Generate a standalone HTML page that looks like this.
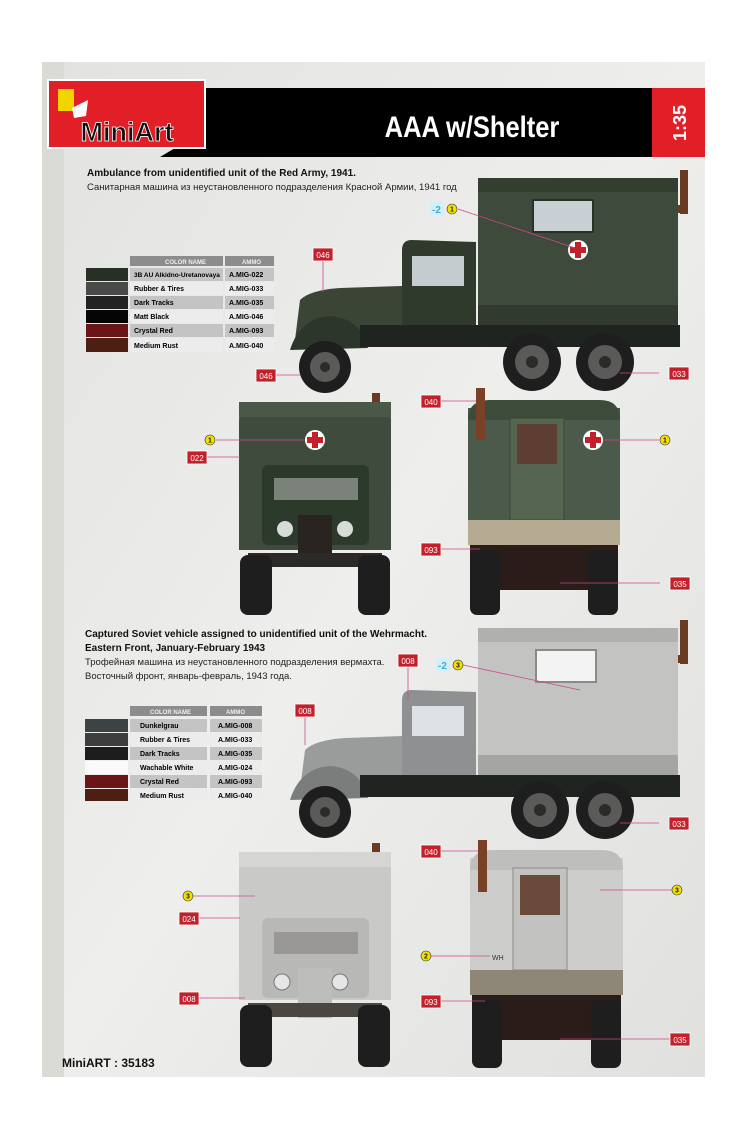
<!DOCTYPE html>
<html><head><meta charset="utf-8"><style>
html,body{margin:0;padding:0;width:746px;height:1139px;overflow:hidden;background:#fff}
svg{display:block}
text{font-family:"Liberation Sans","Noto Sans CJK SC",sans-serif}
</style></head><body>
<svg width="746" height="1139" viewBox="0 0 746 1139" xmlns="http://www.w3.org/2000/svg">
<defs>
<linearGradient id="pg" x1="0" y1="0" x2="1" y2="1">
<stop offset="0" stop-color="#e2e2e0"/><stop offset="0.5" stop-color="#eeeeec"/><stop offset="1" stop-color="#e0e0de"/></linearGradient>
<g id="lbl"><rect x="0" y="0" width="20" height="13" fill="#c3202b" stroke="#fff" stroke-width="0.8"/></g>
<g id="wheel"><circle r="29" fill="#1e1e1e"/><circle r="17" fill="#5a5a58"/><circle r="6" fill="#2b2b2b"/></g>
<g id="fwheel"><circle r="26" fill="#1e1e1e"/><circle r="15" fill="#5a5a58"/><circle r="5" fill="#2b2b2b"/></g>
</defs>
<rect x="42" y="62" width="663" height="1015" fill="url(#pg)"/>
<rect x="42" y="62" width="22" height="1015" fill="#dadad7"/>
<!-- header -->
<polygon points="160,88 655,88 655,157 160,157 175,148 175,95" fill="#000"/>
<rect x="652" y="88" width="53" height="69" fill="#e21f26"/>
<text transform="translate(686,123) rotate(-90)" text-anchor="middle" font-size="18" font-weight="bold" fill="#fff">1:35</text>
<text x="472" y="137" text-anchor="middle" font-size="30" font-weight="bold" fill="#fff" transform="translate(472,0) scale(0.85,1) translate(-472,0)">AAA w/Shelter</text>
<rect x="48" y="80" width="157" height="68" fill="#e21f26" stroke="#fff" stroke-width="2"/>
<rect x="58" y="89" width="16" height="22" fill="#f2d500"/>
<path d="M72 108 L88 100 L86 116 L74 118 Z" fill="#fff"/>
<text x="127" y="141" text-anchor="middle" font-size="27" font-weight="bold" fill="#111" stroke="#fff" stroke-width="0.8">MiniArt</text>
<!-- section 1 text -->
<text x="87" y="176" font-size="10" font-weight="bold" fill="#111">Ambulance from unidentified unit of the Red Army, 1941.</text>
<text x="87" y="190" font-size="9.5" fill="#222">Санитарная машина из неустановленного подразделения Красной Армии, 1941 год</text>
<!-- table 1 -->
<g font-size="7" font-weight="bold">
<rect x="130" y="256" width="93" height="10" fill="#8c8c8c"/><rect x="225" y="256" width="49" height="10" fill="#8c8c8c"/>
<text x="165" y="264" fill="#eee" font-size="6">COLOR NAME</text><text x="242" y="264" fill="#eee" font-size="6">AMMO</text>
<rect x="86" y="268" width="42" height="13" fill="#283026"/><rect x="130" y="268" width="93" height="13" fill="#c4c4c4"/><rect x="225" y="268" width="49" height="13" fill="#c4c4c4"/>
<text x="134" y="277" font-size="6.5">3B AU Alkidno-Uretanovaya</text><text x="229" y="277">A.MIG-022</text>
<rect x="86" y="282" width="42" height="13" fill="#4a4a4a"/><rect x="130" y="282" width="93" height="13" fill="#ececec"/><rect x="225" y="282" width="49" height="13" fill="#ececec"/>
<text x="134" y="291">Rubber &amp; Tires</text><text x="229" y="291">A.MIG-033</text>
<rect x="86" y="296" width="42" height="13" fill="#222"/><rect x="130" y="296" width="93" height="13" fill="#c4c4c4"/><rect x="225" y="296" width="49" height="13" fill="#c4c4c4"/>
<text x="134" y="305">Dark Tracks</text><text x="229" y="305">A.MIG-035</text>
<rect x="86" y="310" width="42" height="13" fill="#050505"/><rect x="130" y="310" width="93" height="13" fill="#ececec"/><rect x="225" y="310" width="49" height="13" fill="#ececec"/>
<text x="134" y="319">Matt Black</text><text x="229" y="319">A.MIG-046</text>
<rect x="86" y="324" width="42" height="13" fill="#6a1518"/><rect x="130" y="324" width="93" height="13" fill="#c4c4c4"/><rect x="225" y="324" width="49" height="13" fill="#c4c4c4"/>
<text x="134" y="333">Crystal Red</text><text x="229" y="333">A.MIG-093</text>
<rect x="86" y="338" width="42" height="14" fill="#4d1e12"/><rect x="130" y="338" width="93" height="14" fill="#ececec"/><rect x="225" y="338" width="49" height="14" fill="#ececec"/>
<text x="134" y="348">Medium Rust</text><text x="229" y="348">A.MIG-040</text>
</g>
<!-- table 2 -->
<g font-size="7" font-weight="bold">
<rect x="130" y="706" width="77" height="10" fill="#8c8c8c"/><rect x="210" y="706" width="52" height="10" fill="#8c8c8c"/>
<text x="150" y="714" fill="#eee" font-size="6">COLOR NAME</text><text x="226" y="714" fill="#eee" font-size="6">AMMO</text>
<rect x="85" y="719" width="43" height="13" fill="#3d4345"/><rect x="130" y="719" width="77" height="13" fill="#c4c4c4"/><rect x="210" y="719" width="52" height="13" fill="#c4c4c4"/>
<text x="140" y="728">Dunkelgrau</text><text x="218" y="728">A.MIG-008</text>
<rect x="85" y="733" width="43" height="13" fill="#3e3e3e"/><rect x="130" y="733" width="77" height="13" fill="#ececec"/><rect x="210" y="733" width="52" height="13" fill="#ececec"/>
<text x="140" y="742">Rubber &amp; Tires</text><text x="218" y="742">A.MIG-033</text>
<rect x="85" y="747" width="43" height="13" fill="#1d1d1d"/><rect x="130" y="747" width="77" height="13" fill="#c4c4c4"/><rect x="210" y="747" width="52" height="13" fill="#c4c4c4"/>
<text x="140" y="756">Dark Tracks</text><text x="218" y="756">A.MIG-035</text>
<rect x="85" y="761" width="43" height="13" fill="#fafafa"/><rect x="130" y="761" width="77" height="13" fill="#ececec"/><rect x="210" y="761" width="52" height="13" fill="#ececec"/>
<text x="140" y="770">Wachable White</text><text x="218" y="770">A.MIG-024</text>
<rect x="85" y="775" width="43" height="13" fill="#6a1518"/><rect x="130" y="775" width="77" height="13" fill="#c4c4c4"/><rect x="210" y="775" width="52" height="13" fill="#c4c4c4"/>
<text x="140" y="784">Crystal Red</text><text x="218" y="784">A.MIG-093</text>
<rect x="85" y="789" width="43" height="12" fill="#4d1e12"/><rect x="130" y="789" width="77" height="12" fill="#ececec"/><rect x="210" y="789" width="52" height="12" fill="#ececec"/>
<text x="140" y="798">Medium Rust</text><text x="218" y="798">A.MIG-040</text>
</g>
<!-- section 2 text -->
<text x="85" y="637" font-size="10" font-weight="bold" fill="#111">Captured Soviet vehicle assigned to unidentified unit of the Wehrmacht.</text>
<text x="85" y="651" font-size="10" font-weight="bold" fill="#111">Eastern Front, January-February 1943</text>
<text x="85" y="665" font-size="9.5" fill="#222">Трофейная машина из неустановленного подразделения вермахта.</text>
<text x="85" y="679" font-size="9.5" fill="#222">Восточный фронт, январь-февраль, 1943 года.</text>

<!-- TRUCK 1 side -->
<g>
<rect x="680" y="170" width="8" height="44" fill="#6b3a22"/><rect x="676" y="205" width="12" height="8" fill="#6b3a22"/>
<rect x="478" y="178" width="200" height="146" fill="#3e4a3b"/>
<rect x="478" y="178" width="200" height="14" fill="#333e31"/>
<rect x="533" y="200" width="60" height="32" fill="#c8d0d4" stroke="#2a3228" stroke-width="2"/>
<circle cx="578" cy="250" r="10" fill="#fff"/><path d="M575 242h6v5h5v6h-5v5h-6v-5h-5v-6h5z" fill="#c3202b"/>
<rect x="478" y="305" width="200" height="20" fill="#323a30"/>
<path d="M402 325 L402 250 Q402 240 412 240 L476 242 L476 325 Z" fill="#2f3a2d"/>
<rect x="412" y="256" width="52" height="30" fill="#c5ccd0"/>
<path d="M295 340 L300 300 Q310 290 340 288 L402 286 L402 335 Z" fill="#3a4536"/>
<path d="M290 350 Q300 318 330 316 Q360 318 368 348 Z" fill="#2d362b"/>
<rect x="360" y="325" width="320" height="22" fill="#1f2420"/>
<use href="#fwheel" x="325" y="367"/>
<use href="#wheel" x="532" y="362"/><use href="#wheel" x="605" y="362"/>
</g>
<!-- TRUCK 1 front -->
<g>
<rect x="372" y="393" width="8" height="20" fill="#6b3a22"/>
<path d="M239 420 Q239 402 260 402 L370 402 Q391 402 391 420 L391 550 L239 550 Z" fill="#3f4b3d"/>
<rect x="239" y="402" width="152" height="15" fill="#4a5847"/>
<circle cx="315" cy="440" r="10" fill="#fff"/><path d="M312 432h6v5h5v6h-5v5h-6v-5h-5v-6h5z" fill="#c3202b"/>
<rect x="262" y="465" width="107" height="80" rx="6" fill="#2c3a2c"/>
<rect x="274" y="478" width="84" height="22" fill="#7a8279"/>
<rect x="298" y="515" width="34" height="50" fill="#2a2420"/>
<circle cx="285" cy="529" r="8" fill="#d8dcd8"/><circle cx="345" cy="529" r="8" fill="#d8dcd8"/>
<rect x="248" y="553" width="134" height="14" fill="#2b2a26"/>
<rect x="240" y="555" width="32" height="60" rx="8" fill="#1e1e1e"/><rect x="358" y="555" width="32" height="60" rx="8" fill="#1e1e1e"/>
</g>
<!-- TRUCK 1 rear -->
<g>
<rect x="468" y="408" width="152" height="112" fill="#4b5a4a"/>
<path d="M468 420 Q468 400 490 400 L600 400 Q620 400 620 420 Z" fill="#3d4b3b"/>
<rect x="476" y="388" width="9" height="52" fill="#7a4128"/>
<rect x="510" y="418" width="54" height="102" fill="#55654f" stroke="#3a4738"/>
<rect x="517" y="424" width="40" height="40" fill="#5e3e32"/>
<circle cx="593" cy="440" r="10" fill="#fff"/><path d="M590 432h6v5h5v6h-5v5h-6v-5h-5v-6h5z" fill="#c3202b"/>
<rect x="468" y="520" width="152" height="25" fill="#b4ab92"/>
<rect x="470" y="545" width="148" height="45" fill="#2a1c18"/>
<rect x="470" y="550" width="30" height="65" rx="7" fill="#1e1e1e"/><rect x="588" y="550" width="30" height="65" rx="7" fill="#1e1e1e"/>
</g>

<!-- TRUCK 2 side -->
<g>
<rect x="680" y="620" width="8" height="44" fill="#6b3a22"/><rect x="676" y="655" width="12" height="8" fill="#6b3a22"/>
<rect x="478" y="628" width="200" height="146" fill="#c3c3c1"/>
<rect x="478" y="628" width="200" height="14" fill="#b0b0ae"/>
<rect x="536" y="650" width="60" height="32" fill="#f3f3f3" stroke="#8a8a88" stroke-width="2"/>
<rect x="478" y="755" width="200" height="20" fill="#a5a5a3"/>
<path d="M402 775 L402 700 Q402 690 412 690 L476 692 L476 775 Z" fill="#8e9092"/>
<rect x="412" y="706" width="52" height="30" fill="#dfe2e4"/>
<path d="M300 790 L305 750 Q315 740 345 738 L402 736 L402 785 Z" fill="#9a9c9c"/>
<path d="M290 800 Q300 768 330 766 Q360 768 368 798 Z" fill="#7b7d7d"/>
<rect x="360" y="775" width="320" height="22" fill="#1f2420"/>
<use href="#fwheel" x="325" y="812"/>
<use href="#wheel" x="540" y="810"/><use href="#wheel" x="605" y="810"/>
</g>
<!-- TRUCK 2 front -->
<g>
<rect x="372" y="843" width="8" height="20" fill="#6b3a22"/>
<path d="M239 870 Q239 852 260 852 L370 852 Q391 852 391 870 L391 1000 L239 1000 Z" fill="#c9c9c7"/>
<rect x="239" y="852" width="152" height="15" fill="#d5d5d3"/>
<rect x="262" y="918" width="107" height="80" rx="6" fill="#b8b8b6"/>
<rect x="274" y="932" width="84" height="22" fill="#9a9895"/>
<rect x="298" y="968" width="34" height="50" fill="#bdbdbb"/>
<circle cx="282" cy="982" r="8" fill="#e6e6e6" stroke="#777"/><circle cx="340" cy="982" r="8" fill="#e6e6e6" stroke="#777"/>
<rect x="248" y="1003" width="134" height="14" fill="#4a4642"/>
<rect x="240" y="1005" width="32" height="62" rx="8" fill="#1e1e1e"/><rect x="358" y="1005" width="32" height="62" rx="8" fill="#1e1e1e"/>
</g>
<!-- TRUCK 2 rear -->
<g>
<rect x="470" y="858" width="153" height="112" fill="#cdcdcb"/>
<path d="M470 870 Q470 850 492 850 L602 850 Q623 850 623 870 Z" fill="#bebebc"/>
<rect x="478" y="840" width="9" height="52" fill="#7a4128"/>
<rect x="513" y="868" width="54" height="102" fill="#c2c2c0" stroke="#8a8a88"/>
<rect x="520" y="875" width="40" height="40" fill="#6a4a3a"/>
<text x="492" y="960" font-size="7" fill="#333">WH</text>
<rect x="470" y="970" width="153" height="25" fill="#8e8676"/>
<rect x="472" y="995" width="149" height="45" fill="#2a1c18"/>
<rect x="472" y="1000" width="30" height="68" rx="7" fill="#1e1e1e"/><rect x="591" y="1000" width="30" height="68" rx="7" fill="#1e1e1e"/>
</g>

<!-- leader lines -->
<g stroke="#c94a8a" stroke-width="0.8" fill="none">
<line x1="458" y1="209" x2="575" y2="248"/>
<line x1="323" y1="261" x2="323" y2="292"/>
<line x1="276" y1="375" x2="300" y2="375"/>
<line x1="620" y1="373" x2="659" y2="373"/>
<line x1="441" y1="401" x2="476" y2="401"/>
<line x1="207" y1="457" x2="240" y2="457"/>
<line x1="216" y1="440" x2="305" y2="440"/>
<line x1="604" y1="440" x2="659" y2="440"/>
<line x1="441" y1="549" x2="480" y2="549"/>
<line x1="560" y1="583" x2="660" y2="583"/>
<line x1="408" y1="667" x2="408" y2="700"/>
<line x1="305" y1="717" x2="305" y2="745"/>
<line x1="463" y1="665" x2="580" y2="690"/>
<line x1="620" y1="823" x2="659" y2="823"/>
<line x1="441" y1="851" x2="478" y2="851"/>
<line x1="193" y1="896" x2="255" y2="896"/>
<line x1="199" y1="918" x2="240" y2="918"/>
<line x1="199" y1="998" x2="245" y2="998"/>
<line x1="431" y1="956" x2="490" y2="956"/>
<line x1="600" y1="890" x2="672" y2="890"/>
<line x1="441" y1="1001" x2="485" y2="1001"/>
<line x1="560" y1="1039" x2="670" y2="1039"/>
</g>
<!-- red labels -->
<g font-size="8" fill="#fff" text-anchor="middle">
<g transform="translate(313,248)"><use href="#lbl"/><text x="10" y="10">046</text></g>
<g transform="translate(256,369)"><use href="#lbl"/><text x="10" y="10">046</text></g>
<g transform="translate(669,367)"><use href="#lbl"/><text x="10" y="10">033</text></g>
<g transform="translate(421,395)"><use href="#lbl"/><text x="10" y="10">040</text></g>
<g transform="translate(187,451)"><use href="#lbl"/><text x="10" y="10">022</text></g>
<g transform="translate(421,543)"><use href="#lbl"/><text x="10" y="10">093</text></g>
<g transform="translate(670,577)"><use href="#lbl"/><text x="10" y="10">035</text></g>
<g transform="translate(398,654)"><use href="#lbl"/><text x="10" y="10">008</text></g>
<g transform="translate(295,704)"><use href="#lbl"/><text x="10" y="10">008</text></g>
<g transform="translate(669,817)"><use href="#lbl"/><text x="10" y="10">033</text></g>
<g transform="translate(421,845)"><use href="#lbl"/><text x="10" y="10">040</text></g>
<g transform="translate(179,912)"><use href="#lbl"/><text x="10" y="10">024</text></g>
<g transform="translate(179,992)"><use href="#lbl"/><text x="10" y="10">008</text></g>
<g transform="translate(421,995)"><use href="#lbl"/><text x="10" y="10">093</text></g>
<g transform="translate(670,1033)"><use href="#lbl"/><text x="10" y="10">035</text></g>
</g>
<!-- yellow circles -->
<g font-size="7" font-weight="bold" text-anchor="middle" fill="#222">
<g transform="translate(452,209)"><circle r="5" fill="#f2e000" stroke="#333" stroke-width="0.6"/><text y="2.5">1</text></g>
<g transform="translate(210,440)"><circle r="5" fill="#f2e000" stroke="#333" stroke-width="0.6"/><text y="2.5">1</text></g>
<g transform="translate(665,440)"><circle r="5" fill="#f2e000" stroke="#333" stroke-width="0.6"/><text y="2.5">1</text></g>
<g transform="translate(458,665)"><circle r="5" fill="#f2e000" stroke="#333" stroke-width="0.6"/><text y="2.5">3</text></g>
<g transform="translate(188,896)"><circle r="5" fill="#f2e000" stroke="#333" stroke-width="0.6"/><text y="2.5">3</text></g>
<g transform="translate(677,890)"><circle r="5" fill="#f2e000" stroke="#333" stroke-width="0.6"/><text y="2.5">3</text></g>
<g transform="translate(426,956)"><circle r="5" fill="#f2e000" stroke="#333" stroke-width="0.6"/><text y="2.5">2</text></g>
</g>
<g font-size="10" font-weight="bold" fill="#3ab0e0">
<rect x="430" y="202" width="14" height="13" fill="#d6eef8"/><text x="432" y="213">-2</text>
<rect x="436" y="658" width="14" height="13" fill="#d6eef8"/><text x="438" y="669">-2</text>
</g>
<text x="62" y="1067" font-size="12" font-weight="bold" fill="#111">MiniART : 35183</text>
</svg>
</body></html>
